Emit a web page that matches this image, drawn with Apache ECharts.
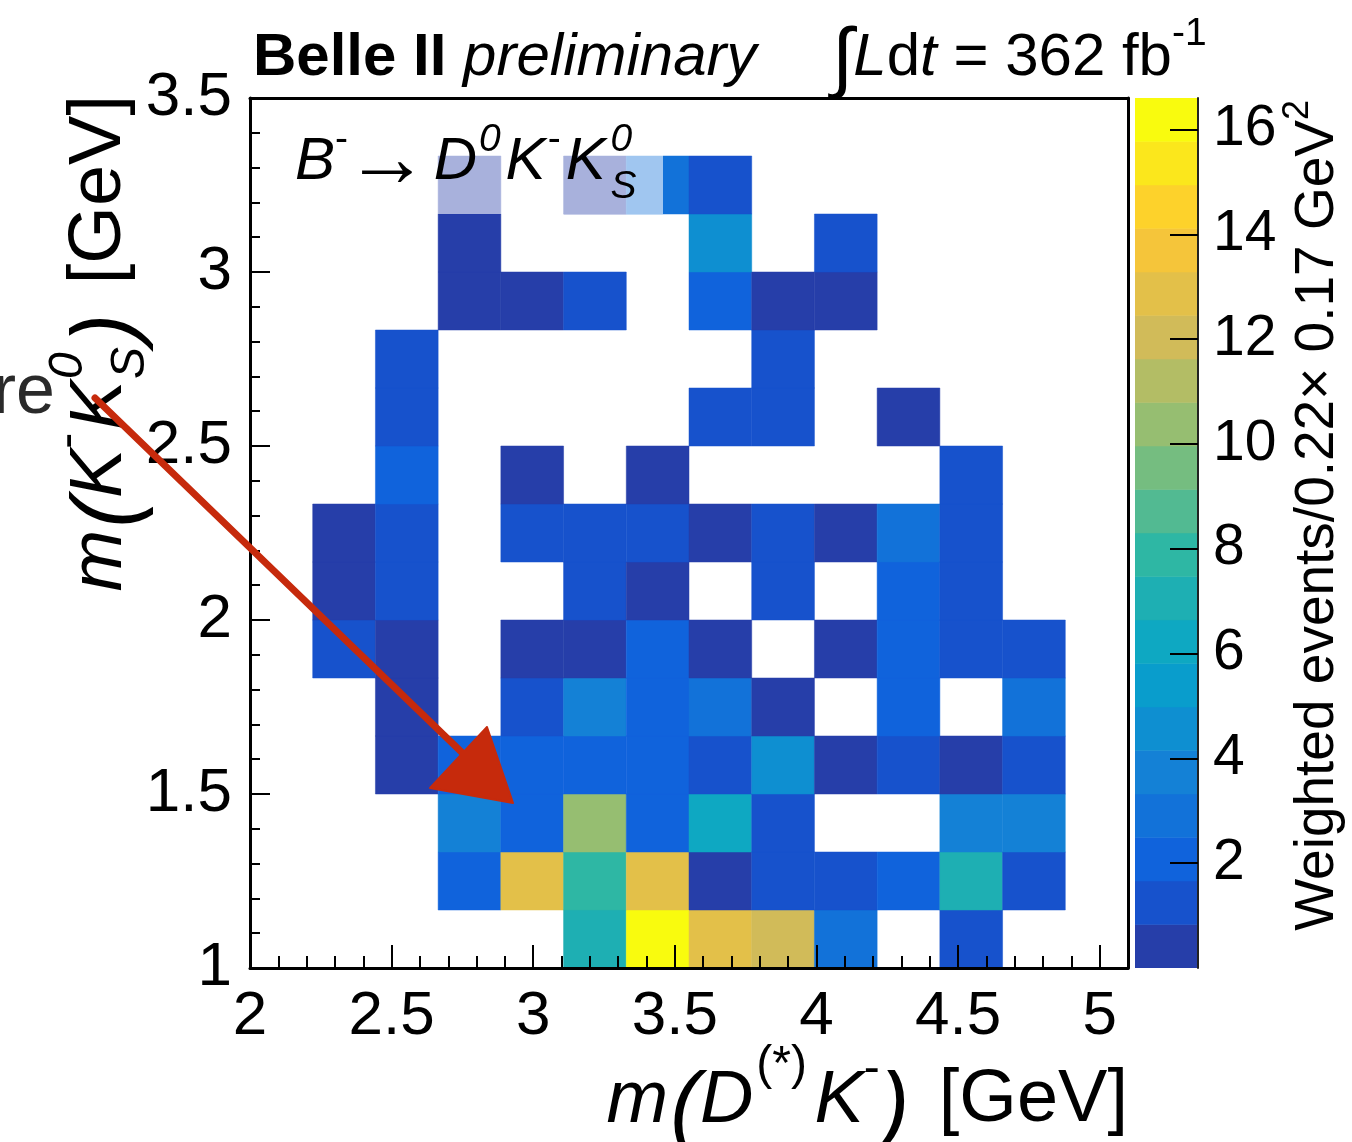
<!DOCTYPE html>
<html><head><meta charset="utf-8">
<script src="https://cdn.jsdelivr.net/npm/echarts@6/dist/echarts.min.js"></script>
<style>html,body{margin:0;padding:0;background:#fff}#c{width:1352px;height:1142px}</style>
</head><body><div id="c"></div>
<script>
// ---------------- binning / axes ----------------
const xRange = [2.0, 5.1];      // m(D(*)K-) [GeV]
const yRange = [1.0, 3.5];      // m(K-K0S) [GeV]
const nXBins = 14;
const nYBins = 15;
const zRange = [0, 16.6];
const nZLevels = 20;
const xMajorTicks = [2, 2.5, 3, 3.5, 4, 4.5, 5];
const yMajorTicks = [1, 1.5, 2, 2.5, 3, 3.5];
const zMajorTicks = [2, 4, 6, 8, 10, 12, 14, 16];

// ---------------- bin contents (one array per y bin, bottom -> top; 14 x bins; 0 = empty) ----------------
const yBin00 = [0, 0, 0, 0, 0, 7.1, 16.6, 12.9, 12.0, 2.9, 0, 1.2, 0, 0];
const yBin01 = [0, 0, 0, 2.1, 12.9, 7.9, 12.8, 0.5, 1.2, 1.3, 2.0, 7.0, 1.2, 0];
const yBin02 = [0, 0, 0, 3.7, 2.0, 10.4, 2.1, 6.2, 1.2, 0, 0, 3.7, 3.8, 0];
const yBin03 = [0, 0, 0.5, 2.1, 2.0, 2.1, 2.0, 1.2, 4.6, 0.5, 1.3, 0.4, 1.2, 0];
const yBin04 = [0, 0, 0.5, 0, 1.2, 3.7, 2.0, 2.9, 0.5, 0, 2.1, 0, 2.9, 0];
const yBin05 = [0, 1.2, 0.4, 0, 0.5, 0.5, 2.0, 0.5, 0, 0.4, 2.0, 1.3, 1.2, 0];
const yBin06 = [0, 0.5, 1.2, 0, 0, 1.2, 0.5, 0, 1.3, 0, 2.0, 1.2, 0, 0];
const yBin07 = [0, 0.4, 1.2, 0, 1.3, 1.2, 1.2, 0.5, 1.2, 0.5, 2.9, 1.2, 0, 0];
const yBin08 = [0, 0, 2.0, 0, 0.5, 0, 0.4, 0, 0, 0, 0, 1.2, 0, 0];
const yBin09 = [0, 0, 1.2, 0, 0, 0, 0, 1.2, 1.3, 0, 0.5, 0, 0, 0];
const yBin10 = [0, 0, 1.2, 0, 0, 0, 0, 0, 1.2, 0, 0, 0, 0, 0];
const yBin11 = [0, 0, 0, 0.5, 0.4, 1.2, 0, 2.0, 0.5, 0.5, 0, 0, 0, 0];
const yBin12 = [0, 0, 0, 0.5, 0, 0, 0, 4.6, 0, 1.2, 0, 0, 0, 0];
const yBin13 = [0, 0, 0, 0.5, 0, 0.4, 2.9, 1.2, 0, 0, 0, 0, 0, 0];
const yBin14 = [0, 0, 0, 0, 0, 0, 0, 0, 0, 0, 0, 0, 0, 0];

// ROOT kBird palette, 20 contour colours
const palette = ['#263ea9','#1752cc','#1063dc','#1272d9','#1481d6','#0e8fd1','#099dcc','#0ea8c2','#1eafb3','#2eb7a4',
                 '#52ba92','#75bd80','#96be71','#b3bd65','#d1bb59','#e3c049','#f5c53a','#fdd22b','#fbe71c','#f9fb0e'];

// ---------------- derived ----------------
const rows = [yBin00,yBin01,yBin02,yBin03,yBin04,yBin05,yBin06,yBin07,yBin08,yBin09,yBin10,yBin11,yBin12,yBin13,yBin14];
const xW = (xRange[1] - xRange[0]) / nXBins;
const yW = (yRange[1] - yRange[0]) / nYBins;
const zStep = (zRange[1] - zRange[0]) / nZLevels;
const cells = [];
rows.forEach((row, j) => row.forEach((v, i) => {
  if (v > 0) cells.push([xRange[0] + i * xW, yRange[0] + j * yW, v]);
}));
const zBands = [];
for (let k = 0; k < nZLevels; k++) zBands.push([0, zRange[0] + k * zStep]);
const xMinorTicks = [], yMinorTicks = [];
for (let k = 0; k <= 30; k++) { const v = +(2 + k * 0.1).toFixed(1); if (!xMajorTicks.includes(v)) xMinorTicks.push(v); }
for (let k = 0; k <= 25; k++) { const v = +(1 + k * 0.1).toFixed(1); if (!yMajorTicks.includes(v)) yMinorTicks.push(v); }

const FONT = '"Liberation Sans", Arial, Helvetica, sans-serif';
const BLK = '#000';

// ---------------- composite (sub/superscript) text helper ----------------
const mctx = document.createElement('canvas').getContext('2d');
function fontStr(p, S) {
  return (p.it ? 'italic ' : '') + (p.b ? 'bold ' : '') + Math.round((p.s || 1) * S) + 'px ' + FONT;
}
function compose(pieces, S, z) {
  let x = 0, stackStart = null, stackMax = 0;
  const out = [];
  pieces.forEach(p => {
    const f = fontStr(p, S);
    mctx.font = f;
    const w = mctx.measureText(p.t).width;
    out.push({ type: 'text', z: z, x: x + (p.dx || 0) * S, y: (p.dy || 0) * S,
      style: { text: p.t, font: f, fill: p.fill || BLK, textAlign: 'left', textVerticalAlign: 'middle' } });
    if (p.stackNext) { stackStart = x; stackMax = w; }
    else if (stackStart !== null) { x = stackStart + Math.max(stackMax, w) + (p.gap || 0) * S; stackStart = null; }
    else x += w + (p.gap || 0) * S;
  });
  return { children: out, width: x };
}
const SUP = -0.36, SUB = 0.42, SS = 0.65;

const decay = compose([
  { t: 'B', it: true },
  { t: '-', s: SS, dy: SUP, gap: -0.05 },
  { t: '\u2192', s: 1.4, dy: 0.02, gap: 0.08 },
  { t: 'D', it: true, gap: 0.03 },
  { t: '0', it: true, s: SS, dy: SUP, gap: 0.08 },
  { t: 'K', it: true, gap: 0.04 },
  { t: '-', s: SS, dy: SUP, gap: 0.08 },
  { t: 'K', it: true, gap: 0.08 },
  { t: '0', it: true, s: SS, dy: SUP, stackNext: true },
  { t: 'S', it: true, s: SS, dy: SUB }
], 60, 45);

const title = compose([
  { t: 'Belle II', b: true },
  { t: ' ' },
  { t: 'preliminary', it: true }
], 60, 45);

const lumi = compose([
  { t: '\u222B', s: 1.3, dy: 0.05 },
  { t: 'L', it: true },
  { t: 'd' },
  { t: 't', it: true },
  { t: ' = 362 fb' },
  { t: '-1', s: SS, dy: SUP - 0.04 }
], 60, 45);

const xTitle = compose([
  { t: 'm', it: true, gap: 0.03 },
  { t: '(', it: true, s: 1.2, dy: 0.12 },
  { t: 'D', it: true, gap: 0.04 },
  { t: '(*)', s: SS, dy: -0.47, gap: 0.1 },
  { t: 'K', it: true },
  { t: '-', s: SS, dy: -0.42 },
  { t: ')', it: true, s: 1.2, dy: 0.12, gap: 0.12 },
  { t: ' [GeV]' }
], 74, 45);

const yTitle = compose([
  { t: 'm', it: true, gap: 0.03 },
  { t: '(', it: true, s: 1.2, dy: 0.12 },
  { t: 'K', it: true },
  { t: '-', s: SS, dy: -0.42, gap: 0.04 },
  { t: 'K', it: true, gap: 0.02 },
  { t: '0', it: true, s: SS, dy: -0.42, stackNext: true },
  { t: 'S', it: true, s: SS, dy: SUB, gap: 0.05 },
  { t: ')', it: true, s: 1.2, dy: 0.12, gap: 0.12 },
  { t: ' [GeV]' }
], 74, 45);

const zTitle = compose([
  { t: 'Weighted events/0.22\u00D7 0.17 GeV' },
  { t: '2', s: SS, dy: SUP }
], 55, 45);

// ---------------- render functions ----------------
function renderCell(params, api) {
  const x0 = api.value(0), y0 = api.value(1), v = api.value(2);
  const p0 = api.coord([x0, y0]);
  const p1 = api.coord([x0 + xW, y0 + yW]);
  const lvl = Math.max(0, Math.min(nZLevels - 1, Math.floor((v - zRange[0]) / zStep)));
  const c = palette[lvl];
  return { type: 'rect', shape: { x: p0[0], y: p1[1], width: p1[0] - p0[0], height: p0[1] - p1[1] },
           style: { fill: c, stroke: c, lineWidth: 0.5 } };
}
function renderBand(params, api) {
  const lo = api.value(1);
  const p0 = api.coord([0, lo]);
  const p1 = api.coord([1, lo + zStep]);
  const c = palette[params.dataIndex];
  return { type: 'rect', shape: { x: p0[0], y: p1[1], width: p1[0] - p0[0], height: p0[1] - p1[1] },
           style: { fill: c, stroke: c, lineWidth: 0.5 } };
}

const lineSt = { color: BLK, width: 3 };
const tickSt = { color: BLK, width: 2 };
const lab = { color: BLK, fontFamily: FONT };

const option = {
  animation: false,
  backgroundColor: '#fff',
  grid: [
    { left: 250, top: 98, width: 878, height: 870, show: false, containLabel: false, outerBoundsMode: 'none' },
    { left: 1135, top: 98, width: 63, height: 870, show: false, containLabel: false, outerBoundsMode: 'none' }
  ],
  xAxis: [
    { gridIndex: 0, type: 'value', min: xRange[0], max: xRange[1], position: 'bottom', z: 10,
      axisLine: { show: true, onZero: false, lineStyle: lineSt },
      axisTick: { show: true, inside: true, length: 23, customValues: xMajorTicks, lineStyle: tickSt },
      axisLabel: Object.assign({ customValues: xMajorTicks, margin: 18, fontSize: 62 }, lab),
      splitLine: { show: false } },
    { gridIndex: 0, type: 'value', min: xRange[0], max: xRange[1], position: 'bottom', z: 10,
      axisLine: { show: false, onZero: false },
      axisTick: { show: true, inside: true, length: 12, customValues: xMinorTicks, lineStyle: tickSt },
      axisLabel: { show: false }, splitLine: { show: false } },
    { gridIndex: 0, type: 'value', min: xRange[0], max: xRange[1], position: 'top', z: 10,
      axisLine: { show: true, onZero: false, lineStyle: lineSt },
      axisTick: { show: false }, axisLabel: { show: false }, splitLine: { show: false } },
    { gridIndex: 1, type: 'value', min: 0, max: 1, show: false, splitLine: { show: false } }
  ],
  yAxis: [
    { gridIndex: 0, type: 'value', min: yRange[0], max: yRange[1], position: 'left', z: 10,
      axisLine: { show: true, onZero: false, lineStyle: lineSt },
      axisTick: { show: true, inside: true, length: 20, customValues: yMajorTicks, lineStyle: tickSt },
      axisLabel: Object.assign({ customValues: yMajorTicks, margin: 18, fontSize: 62 }, lab),
      splitLine: { show: false } },
    { gridIndex: 0, type: 'value', min: yRange[0], max: yRange[1], position: 'left', z: 10,
      axisLine: { show: false, onZero: false },
      axisTick: { show: true, inside: true, length: 10, customValues: yMinorTicks, lineStyle: tickSt },
      axisLabel: { show: false }, splitLine: { show: false } },
    { gridIndex: 0, type: 'value', min: yRange[0], max: yRange[1], position: 'right', z: 10,
      axisLine: { show: true, onZero: false, lineStyle: lineSt },
      axisTick: { show: false }, axisLabel: { show: false }, splitLine: { show: false } },
    { gridIndex: 1, type: 'value', min: zRange[0], max: zRange[1], position: 'right', z: 10,
      axisLine: { show: true, onZero: false, lineStyle: { color: '#222', width: 2 } },
      axisTick: { show: true, inside: true, length: 28, customValues: zMajorTicks, lineStyle: tickSt },
      axisLabel: Object.assign({ customValues: zMajorTicks, margin: 15, fontSize: 57 }, lab),
      splitLine: { show: false } }
  ],
  series: [
    { type: 'custom', name: 'cells', xAxisIndex: 0, yAxisIndex: 0, coordinateSystem: 'cartesian2d',
      renderItem: renderCell, data: cells, encode: { x: 0, y: 1 }, clip: true, z: 2 },
    { type: 'custom', name: 'palette', xAxisIndex: 3, yAxisIndex: 3, coordinateSystem: 'cartesian2d',
      renderItem: renderBand, data: zBands, encode: { x: 0, y: 1 }, clip: true, z: 2 }
  ],
  graphic: { elements: [
    { type: 'rect', z: 40, shape: { x: 280, y: 116, width: 383, height: 98 },
      style: { fill: 'rgba(255,255,255,0.6)' } },
    { type: 'group', x: 295, y: 162, children: decay.children },
    { type: 'group', x: 253, y: 58, children: title.children },
    { type: 'group', x: 832, y: 58, children: lumi.children },
    { type: 'group', x: 1128 - xTitle.width, y: 1101, children: xTitle.children },
    { type: 'group', x: 100, y: 95 + yTitle.width, rotation: Math.PI / 2, children: yTitle.children },
    { type: 'group', x: 1318, y: 100 + zTitle.width, rotation: Math.PI / 2, children: zTitle.children },
    { type: 'text', z: 90, x: 55, y: 394,
      style: { text: 're', font: '70px ' + FONT, fill: '#2a2a2a', textAlign: 'right', textVerticalAlign: 'middle' } },
    { type: 'line', z: 100, shape: { x1: 95, y1: 398, x2: 478, y2: 768 },
      style: { stroke: '#c62a0c', lineWidth: 7, lineCap: 'round' } },
    { type: 'polygon', z: 100, shape: { points: [[487, 727], [430, 788], [513, 803]] },
      style: { fill: '#c62a0c', stroke: '#c62a0c', lineWidth: 2, lineJoin: 'round' } }
  ] }
};

const chart = echarts.init(document.getElementById('c'), null, { renderer: 'canvas', width: 1352, height: 1142 });
chart.setOption(option);
</script>
</body></html>
